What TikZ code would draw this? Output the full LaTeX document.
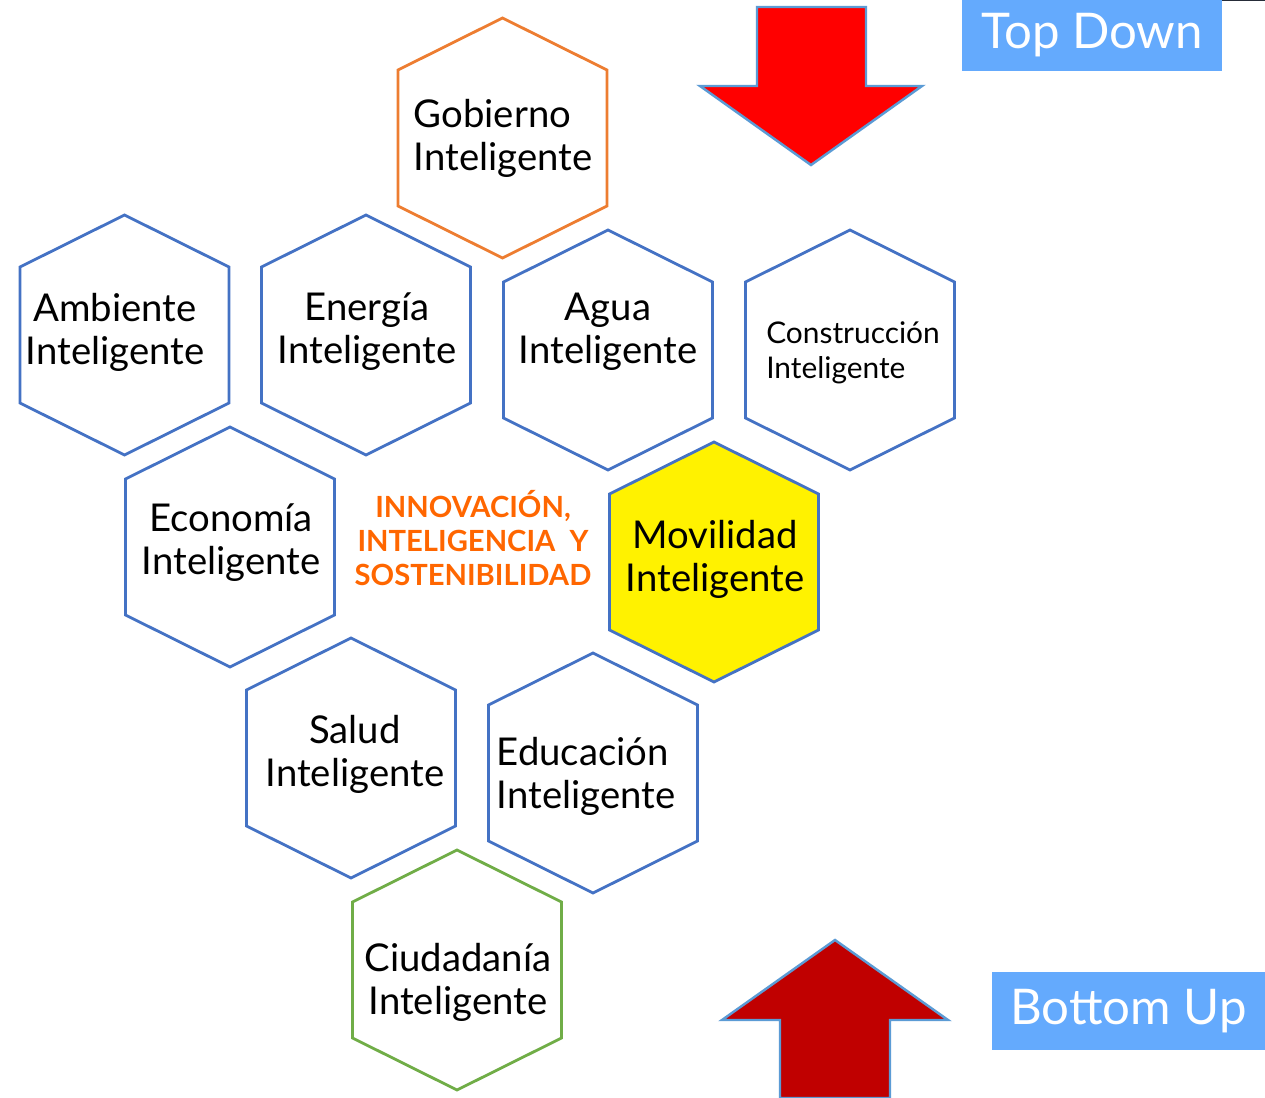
\documentclass[tikz,border=0pt]{standalone}
\usepackage{fontspec}
\setmainfont{Lato}
\usepackage{tikz}
\usetikzlibrary{positioning}
\definecolor{cblue}{RGB}{68,114,196}
\definecolor{corange}{RGB}{237,125,49}
\definecolor{cgreen}{RGB}{112,173,71}
\definecolor{ctext}{RGB}{255,102,0}
\definecolor{cbox}{RGB}{100,170,253}
\definecolor{cedge}{RGB}{91,155,213}
\definecolor{cdark}{RGB}{192,0,0}
\definecolor{cline}{RGB}{38,44,56}

% hexagon around a centre (pixel units)
\newcommand{\hexcell}[2][cell]{%
  \draw[#1] (#2) ++(0,-120) -- ++(104.5,52) -- ++(0,136) -- ++(-104.5,52)
    -- ++(-104.5,-52) -- ++(0,-136) -- cycle;}

\begin{document}
\begin{tikzpicture}[x=0.02cm,y=-0.02cm,
  cell/.style={draw=cblue,line width=1.6pt},
  cellgob/.style={draw=corange,line width=1.6pt},
  cellciu/.style={draw=cgreen,line width=1.6pt},
  cellmov/.style={draw=cblue,fill=yellow,line width=1.6pt},
  hexlabel/.style={inner sep=0pt,align=center,font=\fontsize{21.8}{24.5}\selectfont},
  core/.style={inner sep=0pt,align=center,text=ctext,font=\bfseries\fontsize{16.6}{19.5}\selectfont},
  tag/.style={fill=cbox,text=white,inner sep=0pt,font=\fontsize{28}{28}\selectfont},
  bigarrow/.style={draw=cedge,line width=1.4pt}]
  \useasboundingbox (0,0) rectangle (1265,1098);

  % cells
  \hexcell[cellgob]{502.5,138}
  \hexcell{124.5,335}
  \hexcell{366,335}
  \hexcell{608,350}
  \hexcell{850,350}
  \hexcell{230,547}
  \hexcell[cellmov]{714,562}
  \hexcell{351,758}
  \hexcell{593,773}
  \hexcell[cellciu]{457,970}

  \node[hexlabel,align=left] (gob) at (503,138) {Gobierno\\Inteligente};
  \node[hexlabel] (amb) at (115,332) {Ambiente\\Inteligente};
  \node[hexlabel] (ene) at (367,332) {Energía\\Inteligente};
  \node[hexlabel] (agu) at (608,332) {Agua\\Inteligente};
  \node[hexlabel,align=left,font=\fontsize{17}{20}\selectfont] (con) at (853,353) {Construcción\\Inteligente};
  \node[hexlabel] (eco) at (231,543) {Economía\\Inteligente};
  \node[hexlabel] (mov) at (715,559) {Movilidad\\Inteligente};
  \node[hexlabel] (sal) at (355,754) {Salud\\Inteligente};
  \node[hexlabel,align=left] (edu) at (586,776) {Educación\\Inteligente};
  \node[hexlabel] (ciu) at (458,982) {Ciudadanía\\Inteligente};

  \node[core] (core) at (473,538) {INNOVACIÓN,\\INTELIGENCIA~~Y\\SOSTENIBILIDAD};

  % direction arrows
  \filldraw[bigarrow,fill=red] (757,7) -- (866,7) -- (866,86) -- (922,86)
    -- (811,165) -- (700,86) -- (757,86) -- cycle;
  \filldraw[bigarrow,fill=cdark] (835,940) -- (948,1020) -- (890,1020)
    -- (890,1098) -- (780,1098) -- (780,1020) -- (722,1020) -- cycle;

  % tags
  \node[tag,minimum width=5.2cm,minimum height=1.42cm] (td) at (1092,35.5) {Top Down};
  \node[tag,minimum width=5.46cm,minimum height=1.56cm] (bu) at (1128.5,1011) {Bottom Up};
  \draw[line width=1.2pt,cline] (td.north east) -- ++(43,0);
\end{tikzpicture}
\end{document}
